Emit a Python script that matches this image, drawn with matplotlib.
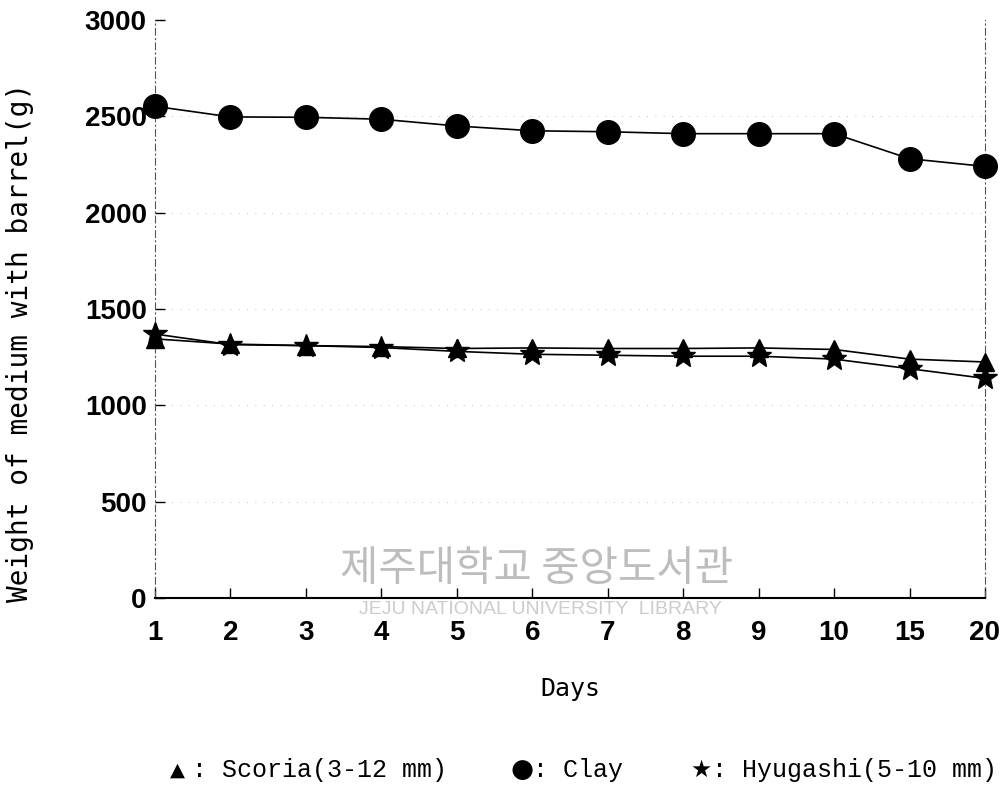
import matplotlib
matplotlib.use("Agg")
import matplotlib.pyplot as plt

days = ["1", "2", "3", "4", "5", "6", "7", "8", "9", "10", "15", "20"]
scoria = [1345, 1318, 1310, 1305, 1295, 1298, 1295, 1295, 1298, 1290, 1240, 1225]
clay = [2552, 2497, 2495, 2485, 2450, 2425, 2420, 2410, 2410, 2410, 2280, 2240]
hyugashi = [1370, 1315, 1310, 1300, 1280, 1265, 1260, 1255, 1255, 1240, 1190, 1140]
yticks = [0, 500, 1000, 1500, 2000, 2500, 3000]

fig = plt.figure(figsize=(10.06, 7.89), dpi=100)
ax = fig.add_axes([155/1006, 1-598/789, 830/1006, 578/789])
x = list(range(len(days)))

ax.plot(x, clay, color="black", lw=1.2, marker="o", ms=17, zorder=3, clip_on=False)
ax.plot(x, scoria, color="black", lw=1.2, marker="^", ms=13, zorder=3, clip_on=False)
ax.plot(x, hyugashi, color="black", lw=1.2, marker="*", ms=18, zorder=3, clip_on=False)

ax.set_xlim(0, len(days)-1)
ax.set_ylim(0, 3000)
ax.set_xticks(x)
ax.set_xticklabels(days)
ax.set_yticks(yticks)
for yv in yticks[1:-1]:
    ax.axhline(yv, color="#aaaaaa", lw=0.6, ls=(0, (1, 9)), zorder=1)

ax.spines["top"].set_visible(False)
for side in ("left", "right"):
    ax.spines[side].set_linestyle((0, (6, 3, 1, 3)))
    ax.spines[side].set_color("#555555")
    ax.spines[side].set_linewidth(0.8)
ax.spines["bottom"].set_linewidth(1.5)
ax.tick_params(axis="both", direction="in", length=7, width=1)
ax.tick_params(axis="x", pad=16)
ax.tick_params(axis="y", pad=6)
for lab in ax.get_xticklabels() + ax.get_yticklabels():
    lab.set_fontfamily("Liberation Sans")
    lab.set_fontweight("bold")
    lab.set_fontsize(20)

ax.set_xlabel("Days", fontfamily="DejaVu Sans Mono", fontsize=18, labelpad=22)
fig.text(20/1006, 1-342/789, "Weight of medium with barrel(g)", fontfamily="DejaVu Sans Mono",
         fontsize=20, rotation=90, ha="center", va="center")

# watermark
fig.text(537/1006, 1-570/789, "제주대학교 중앙도서관", fontfamily="Noto Sans CJK KR",
         fontsize=30, color="#bdbdbd", ha="center", va="center", zorder=0)
fig.text(540/1006, 1-609/789, "JEJU NATIONAL UNIVERSITY  LIBRARY", fontfamily="Liberation Sans",
         fontsize=14, color="#cccccc", ha="center", va="center", zorder=0)

# legend text
fs = 18
ly = 1-770/789
fig.text(170/1006, ly, "▲", fontfamily="DejaVu Sans", fontsize=14, va="center")
fig.text(192/1006, ly, ": Scoria(3-12 mm)", fontfamily="Liberation Mono", fontsize=fs, va="center")
fig.text(510/1006, ly, "●", fontfamily="DejaVu Sans", fontsize=19, va="center")
fig.text(533/1006, ly, ": Clay", fontfamily="Liberation Mono", fontsize=fs, va="center")
fig.text(690/1006, ly, "★", fontfamily="DejaVu Sans", fontsize=17, va="center")
fig.text(712/1006, ly, ": Hyugashi(5-10 mm)", fontfamily="Liberation Mono", fontsize=fs, va="center")

fig.savefig("out.png", dpi=100)
